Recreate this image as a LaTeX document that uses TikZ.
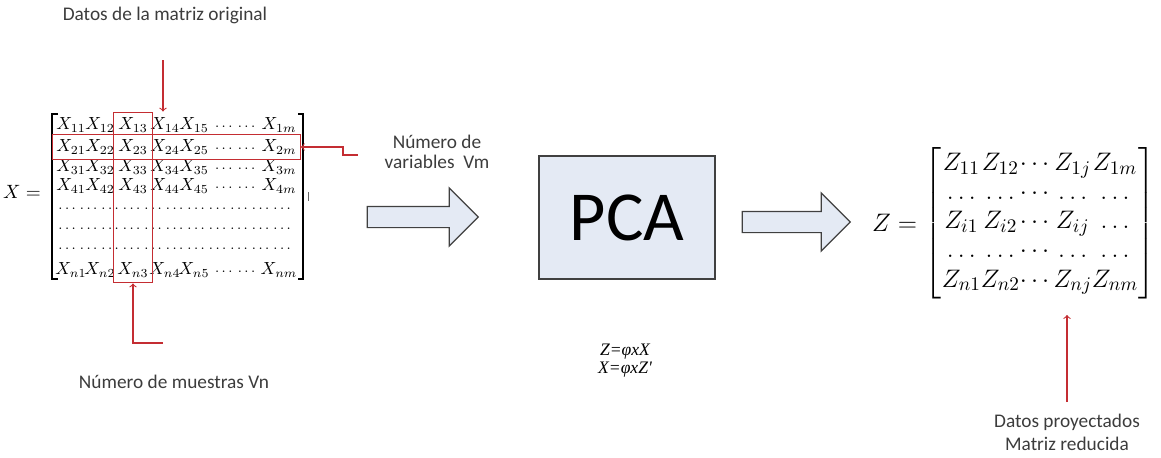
\documentclass[tikz,border=0pt]{standalone}
\usepackage[no-math]{fontspec}
\usepackage{amsmath}
\setmainfont{Carlito}
\newfontfamily\eqfont{Liberation Serif}
\usetikzlibrary{positioning,fit,shapes.arrows}
\definecolor{markred}{RGB}{196,45,50}
\definecolor{boxfill}{RGB}{228,234,244}
\definecolor{labelgray}{RGB}{60,60,60}

\begin{document}
\begin{tikzpicture}[
    x=0.02cm, y=-0.02cm,
    label/.style={font=\fontsize{11}{11.5}\selectfont, text=labelgray, align=center},
    entry/.style={font=\fontsize{10}{12}\selectfont, inner sep=0pt},
    dotfill/.style={font=\fontsize{8}{10}\selectfont, inner sep=0pt},
    redbox/.style={draw=markred, line width=0.6pt},
    marker/.style={->, draw=markred, line width=0.6pt},
    bracket/.style={draw=black, line width=0.9pt},
    blockarrow/.style={single arrow, draw=black!75, fill=boxfill, line width=0.7pt,
        single arrow head extend=0.37cm, inner xsep=0pt, inner ysep=0.2cm},
    pcabox/.style={draw=black!75, fill=boxfill, line width=0.7pt,
        minimum width=3.52cm, minimum height=2.46cm, font=\fontsize{40}{48}\selectfont},
    zfont/.style={font=\fontsize{15.5}{18}\selectfont, inner sep=0pt}
]
\useasboundingbox (0,0) rectangle (1161,457);

% original matrix X
\node[entry, font=\fontsize{11}{13}\selectfont] (xeq) at (22,192) {$X =$};
\foreach \r/\yy in {1/125,2/147,3/167,4/186,n/270} {
    \foreach \c/\xx in {1/71,2/100,3/133,4/165,5/194}
        \node[entry] (x\r\c) at (\xx,\yy) {$X_{\r\c}$};
    \node[dotfill] (x\r d) at (236,\yy+2) {\makebox[0.98cm]{\xleaders\hbox{$\ldots$\hskip 1pt}\hfill}};
    \node[entry] (x\r m) at (279,\yy) {$X_{\r m}$};
}
\foreach \yy [count=\k] in {209,229,249}
    \node[dotfill] (xdots\k) at (176,\yy) {\makebox[4.76cm]{\xleaders\hbox{$\ldots$\hskip 1.5pt}\hfill}};
\draw[bracket] (58,114) -- (52,114) -- (52,279) -- (58,279);
\draw[bracket] (298,114) -- (303,114) -- (303,279) -- (298,279);
\draw[black!60, line width=0.4pt] (308,192) -- (308,201);

% red marks on the matrix
\node[redbox, fit=(x13)(xn3), inner xsep=2pt, inner ysep=3pt] (colbox) {};
\node[redbox, fit=(x21)(x2m), inner xsep=2pt, inner ysep=3pt] (rowbox) {};

\node[label] (origlabel) at (165,15) {Datos de la matriz original};
\coordinate (tstart) at (163,60);
\draw[marker] (tstart) -- (tstart |- colbox.north);

\node[label] (samplelabel) at (174,382) {Número de muestras Vn};
\coordinate (bstart) at (163,343);
\draw[marker] (bstart) -| (colbox.south);

\node[label] (varlabel) at (437,152) {Número de\\variables~~Vm};
\coordinate (rstart) at (358,155);
\draw[marker] (rstart) -- ++(-15,0) |- (rowbox.east);

% PCA step
\node[blockarrow, minimum height=2.22cm] (arrA) at (417.5,217) {};
\node[pcabox] (pca) at (627,217.5) {PCA};
\node[blockarrow, minimum height=2.16cm] (arrB) at (791,222) {};
\node[font=\eqfont\itshape\fontsize{10}{10.2}\selectfont, align=center] (eqs) at (625,361) {Z=φxX\\X=φxZ'};

% reduced matrix Z
\node[zfont] (zmat) at (1040,223) {\renewcommand{\arraystretch}{0.92}$\left[\begin{array}{@{}c@{}c@{}c@{}c@{}c@{}}
    Z_{11} & Z_{12} & \cdots & Z_{1j} & Z_{1m}\\
    \ldots & \ldots & \cdots & \ldots & \ldots\\
    Z_{i1} & Z_{i2} & \cdots & Z_{ij} & \ldots\\
    \ldots & \ldots & \cdots & \ldots & \ldots\\
    Z_{n1} & Z_{n2} & \cdots & Z_{nj} & Z_{nm}
\end{array}\right]$};
\node[zfont, left=4pt of zmat] (zeq) {$Z =$};

\node[label, font=\fontsize{11}{13}\selectfont] (projlabel) at (1067,432) {Datos proyectados\\Matriz reducida};
\coordinate (zstart) at (1067,402);
\draw[marker] (zstart) -- ++(0,-87);

\end{tikzpicture}
\end{document}
